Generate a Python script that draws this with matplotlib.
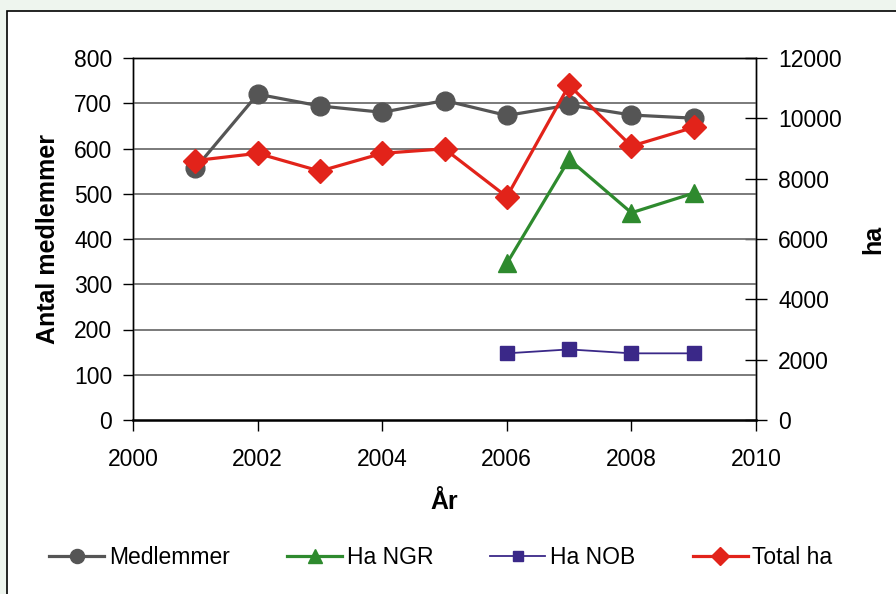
import matplotlib
matplotlib.use("Agg")
import matplotlib.pyplot as plt
from matplotlib.patches import Rectangle

plt.rcParams['font.family'] = ['Liberation Sans', 'DejaVu Sans']

years_all = [2001, 2002, 2003, 2004, 2005, 2006, 2007, 2008, 2009]
medlemmer = [556, 720, 694, 680, 706, 673, 696, 674, 667]
total_ha = [8600, 8840, 8250, 8840, 8990, 7400, 11100, 9080, 9700]

years_new = [2006, 2007, 2008, 2009]
ha_ngr = [5190, 8640, 6870, 7520]
ha_nob = [2210, 2340, 2210, 2210]

x_ticks = [2000, 2002, 2004, 2006, 2008, 2010]
left_ticks = [0, 100, 200, 300, 400, 500, 600, 700, 800]
right_ticks = [0, 2000, 4000, 6000, 8000, 10000, 12000]

fig = plt.figure(figsize=(8.96, 5.94), dpi=100)
fig.patch.set_facecolor('#eef5ee')
# white panel with black border
fig.patches.append(Rectangle((7 / 896, -0.1), 1.2, 1 - 11 / 594 + 0.1,
                             transform=fig.transFigure, facecolor='white',
                             edgecolor='black', linewidth=1.2, zorder=-10))

ax = fig.add_axes([133 / 896, 1 - 420 / 594, (756 - 133) / 896, (420 - 58) / 594])
ax2 = ax.twinx()
ax.set_zorder(2)
ax2.set_zorder(1)
ax.patch.set_visible(False)
ax2.patch.set_visible(False)

ax.set_xlim(2000, 2010)
ax.set_ylim(0, 800)
ax2.set_ylim(0, 12000)
ax.set_xticks(x_ticks)
ax.set_yticks(left_ticks)
ax2.set_yticks(right_ticks)

for y in left_ticks[1:-1]:
    ax.axhline(y, color='#707070', linewidth=1.3, zorder=0)

c_med = '#555555'
c_ngr = '#2e8a2e'
c_nob = '#3a2888'
c_tot = '#e2231a'

l1, = ax.plot(years_all, medlemmer, color=c_med, linewidth=2.3, marker='o',
              markersize=13.5, label='Medlemmer', zorder=3)
l2, = ax2.plot(years_new, ha_ngr, color=c_ngr, linewidth=2.3, marker='^',
               markersize=13.5, label='Ha NGR')
l3, = ax2.plot(years_new, ha_nob, color=c_nob, linewidth=1.3, marker='s',
               markersize=9.5, label='Ha NOB')
l4, = ax2.plot(years_all, total_ha, color=c_tot, linewidth=2.3, marker='D',
               markersize=12.5, label='Total ha')
# right-axis series drawn above the members line
for l in (l2, l3, l4):
    l.remove()
    ax.add_line(l)
    l.set_transform(ax2.transData)
    l.set_zorder(4)

for sp in ['left', 'right', 'top']:
    ax.spines[sp].set_linewidth(1.0)
    ax2.spines[sp].set_linewidth(1.0)
ax.spines['bottom'].set_linewidth(1.8)

ax.tick_params(axis='y', direction='out', length=7, width=1, labelsize=16.5, pad=8)
ax.tick_params(axis='x', direction='out', length=8, width=1, labelsize=16.5, pad=12)
ax2.tick_params(axis='y', direction='inout', length=16, width=1, labelsize=16.5, pad=8)

ax.set_ylabel('Antal medlemmer', fontsize=18, fontweight='bold', labelpad=10)
ax2.set_ylabel('ha', fontsize=18, fontweight='bold', labelpad=14)
ax.set_xlabel('År', fontsize=18, fontweight='bold', labelpad=14)

fig.legend(handles=[l1, l2, l3, l4], loc='center', bbox_to_anchor=(0.492, 1 - 558 / 594),
           ncol=4, frameon=False, fontsize=16.5, handlelength=2.4, handletextpad=0.2,
           columnspacing=2.5, markerscale=0.75)

fig.savefig('out.png', dpi=100, facecolor=fig.get_facecolor())
